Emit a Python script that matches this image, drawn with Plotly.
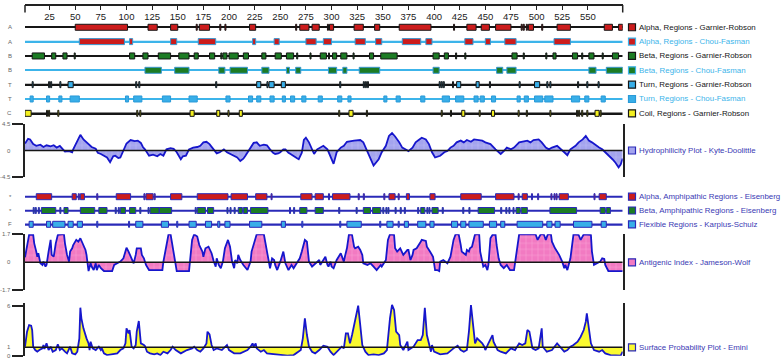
import plotly.graph_objects as go

W, H = 783, 361
FONT = "Liberation Sans, Arial, sans-serif"

seq_len = 584
ruler_ticks = list(range(25, 551, 25))

# ---------------- region tracks (start, end residue) ----------------
alpha_gr_start = [50, 121, 143, 168, 171, 191, 196, 220, 265, 269, 281, 296, 298, 322, 342, 366, 419, 432, 446, 460, 485, 487, 490, 492, 505, 520, 566, 580]
alpha_gr_end = [101, 130, 150, 169, 181, 192, 197, 226, 266, 278, 288, 297, 302, 331, 347, 397, 420, 441, 454, 475, 486, 488, 491, 497, 506, 533, 574, 584]

alpha_cf_start = [54, 103, 143, 170, 223, 244, 275, 292, 323, 343, 369, 392, 430, 450, 469, 517]
alpha_cf_end = [98, 106, 149, 187, 226, 249, 285, 300, 333, 349, 387, 398, 438, 455, 480, 533]

beta_gr_start = [8, 27, 38, 49, 103, 116, 131, 151, 166, 181, 192, 194, 200, 214, 232, 245, 256, 266, 279, 289, 297, 301, 309, 321, 337, 348, 399, 410, 421, 430, 476, 487, 509, 516, 535, 544, 551, 564, 574]
beta_gr_end = [20, 31, 42, 50, 108, 121, 143, 161, 170, 186, 193, 198, 209, 219, 236, 251, 263, 267, 280, 295, 298, 305, 315, 322, 341, 364, 405, 414, 422, 431, 481, 488, 510, 519, 540, 545, 556, 565, 580]

beta_cf_start = [118, 147, 190, 201, 232, 256, 265, 297, 311, 327, 399, 461, 471, 551, 568]
beta_cf_end = [134, 161, 196, 218, 239, 259, 270, 305, 315, 347, 405, 467, 480, 558, 584]

turn_gr_start = [8, 24, 26, 35, 43, 109, 112, 187, 227, 237, 239, 251, 308, 331, 333, 335, 405, 407, 409, 418, 422, 441, 454, 483, 498, 510, 513, 540, 549, 560]
turn_gr_end = [9, 25, 27, 36, 48, 110, 113, 188, 231, 238, 244, 255, 309, 332, 334, 336, 406, 408, 410, 419, 426, 444, 455, 484, 503, 511, 514, 541, 550, 561]

turn_cf_start = [6, 22, 34, 45, 99, 107, 135, 161, 197, 219, 227, 240, 252, 260, 271, 287, 306, 316, 351, 363, 387, 408, 421, 439, 445, 456, 481, 488, 498, 508, 534, 547, 563]
turn_cf_end = [9, 25, 37, 54, 102, 115, 143, 169, 201, 223, 231, 244, 255, 264, 275, 291, 310, 319, 354, 367, 391, 415, 429, 443, 449, 460, 484, 492, 506, 516, 542, 551, 567]

coil_gr_start = [1, 22, 24, 33, 110, 113, 162, 188, 199, 210, 307, 317, 334, 407, 416, 427, 444, 456, 482, 490, 513, 539, 541, 544, 549, 557, 562]
coil_gr_end = [7, 23, 25, 34, 111, 114, 166, 191, 200, 213, 308, 321, 335, 408, 417, 430, 445, 459, 483, 491, 514, 540, 542, 545, 550, 561, 563]

alpha_amph_start = [12, 47, 53, 55, 71, 90, 117, 119, 127, 143, 169, 202, 226, 241, 270, 284, 297, 301, 326, 331, 351, 356, 365, 373, 396, 426, 460, 482, 486, 495, 501, 514, 517, 519, 522, 556, 561]
alpha_amph_end = [27, 51, 54, 59, 72, 104, 118, 126, 128, 154, 199, 218, 237, 242, 281, 292, 298, 318, 327, 332, 352, 362, 366, 376, 401, 446, 478, 483, 491, 496, 502, 515, 518, 520, 531, 557, 568]

beta_amph_start = [9, 11, 14, 17, 35, 39, 55, 73, 89, 92, 94, 103, 113, 121, 123, 132, 167, 169, 179, 198, 201, 205, 209, 214, 221, 259, 263, 269, 284, 307, 324, 331, 340, 350, 353, 355, 362, 367, 371, 384, 387, 393, 395, 398, 408, 428, 434, 443, 465, 470, 473, 477, 480, 485, 513, 562, 568]
beta_amph_end = [10, 12, 15, 31, 36, 43, 69, 81, 90, 93, 99, 109, 114, 122, 132, 144, 168, 177, 185, 199, 202, 206, 213, 218, 238, 260, 264, 276, 292, 308, 325, 338, 348, 351, 354, 356, 363, 368, 372, 385, 391, 394, 396, 404, 409, 429, 435, 459, 466, 471, 474, 478, 484, 491, 539, 567, 572]

flex_start = [5, 22, 28, 43, 52, 71, 102, 109, 134, 149, 161, 177, 189, 196, 220, 251, 271, 308, 315, 347, 354, 365, 371, 384, 396, 417, 426, 434, 454, 465, 481, 510, 518, 536, 563]
flex_end = [9, 26, 40, 48, 57, 72, 103, 116, 141, 150, 168, 183, 191, 201, 232, 255, 272, 309, 329, 348, 360, 366, 375, 392, 400, 423, 431, 448, 461, 469, 506, 515, 523, 554, 568]

# ---------------- profile plots (residue, value) ----------------
hydro_points = [(1, 1.2), (4, 2.0), (6, 1.9), (9, 1.1), (12, 0.8), (16, 1.0), (19, 0.6), (22, 0.9), (26, 0.7), (29, 0.9), (32, 0.5), (35, 0.8), (38, 0.2), (40, -0.2), (44, -0.1), (47, -0.3), (48, 0.2), (52, 1.6), (55, 2.7), (58, 1.9), (61, 1.4), (63, 1.1), (66, 0.6), (70, 0.3), (72, -0.4), (75, -0.6), (78, -0.9), (81, -1.2), (84, -2.0), (87, -1.0), (89, -0.9), (92, -1.3), (94, -1.2), (97, -0.1), (100, 1.2), (104, 1.8), (108, 1.6), (111, 1.7), (114, 1.3), (116, 0.6), (118, 0.2), (122, -0.9), (126, -0.7), (130, -1.0), (133, -0.6), (136, -0.9), (139, 0.2), (143, 0.4), (146, 0.3), (149, -0.3), (153, -1.5), (155, -1.0), (158, -0.9), (161, 0.2), (165, 0.5), (169, 0.6), (172, 0.8), (175, 1.4), (178, 1.5), (181, 1.1), (185, 0.2), (188, -0.5), (191, -0.3), (195, 0.2), (198, -0.3), (201, -0.6), (205, -1.0), (208, -1.2), (211, -1.8), (214, -1.4), (216, -0.9), (219, -0.1), (222, 0.9), (224, 1.3), (227, 1.4), (230, 0.8), (234, 1.0), (237, 0.9), (240, 0.2), (243, -0.4), (245, -0.6), (248, -0.5), (250, -0.3), (253, 0.2), (255, 0.2), (258, -0.4), (260, -0.6), (263, -1.0), (266, -1.3), (268, -1.5), (271, -0.4), (273, 1.8), (275, 2.2), (278, 1.4), (281, 0.2), (283, -0.6), (286, 0.2), (289, 0.5), (292, 0.8), (296, 0.2), (299, -0.9), (302, -2.3), (305, -0.3), (309, 0.5), (312, 0.8), (315, 1.5), (322, 1.7), (328, 1.8), (331, 1.4), (335, -0.3), (338, -1.5), (341, -2.6), (346, -1.5), (349, -0.3), (353, 0.8), (356, 2.5), (359, 3.0), (362, 2.4), (366, 1.4), (369, 0.5), (372, 0.2), (375, -0.1), (379, 0.5), (382, 1.4), (385, 1.8), (388, 2.2), (392, 1.9), (395, 1.1), (398, -0.3), (401, -1.2), (406, -0.9), (410, -0.3), (413, -0.1), (416, 0.5), (419, 0.8), (422, 1.4), (426, 1.7), (429, 1.4), (432, 1.8), (436, 1.5), (439, 1.9), (444, 1.7), (447, 1.7), (450, 1.4), (455, 1.1), (460, 0.2), (465, -0.6), (468, -0.1), (471, 0.5), (475, 0.2), (478, 0.5), (483, 1.4), (486, 1.5), (491, 1.7), (494, 1.4), (497, 1.8), (502, 1.9), (505, 1.4), (509, 0.5), (512, 0.2), (515, 0.5), (520, 0.8), (527, -0.3), (530, -0.8), (533, 0.2), (538, 0.8), (541, 1.4), (545, 1.9), (548, 2.5), (551, 1.7), (554, 1.4), (558, 0.8), (561, 0.5), (564, 0.2), (567, -0.3), (571, -0.9), (574, -1.5), (577, -2.1), (580, -2.9), (582, -2.4), (584, -1.4)]

antigen_points = [(1, 0.3), (5, 1.66), (9, 1.66), (10, 1.15), (12, 0.65), (13, 0.34), (14, 0.55), (16, -0.06), (18, -0.16), (19, 0.04), (21, -0.26), (22, -0.16), (24, 0.65), (26, 1.36), (27, 0.45), (29, 0.34), (31, 1.15), (33, 1.66), (37, 1.7), (39, 1.7), (40, 1.15), (42, 0.45), (44, 0.04), (45, 0.65), (47, 0.85), (48, 1.05), (51, 1.36), (53, 1.25), (55, 1.46), (58, 1.05), (60, 0.75), (61, 0.45), (63, -0.53), (65, -0.06), (66, -0.26), (68, -0.47), (70, -0.06), (71, -0.47), (73, -0.16), (75, -0.36), (78, -0.53), (86, -0.53), (88, -0.16), (91, -0.06), (94, 0.04), (97, 0.24), (100, 0.89), (102, 0.65), (104, 0.34), (107, -0.06), (109, 0.45), (110, 0.85), (114, 0.85), (115, 0.45), (117, 0.24), (119, -0.16), (122, -0.47), (135, -0.47), (136, 0.04), (139, 1.15), (141, 1.7), (143, 1.7), (144, 1.36), (146, 0.65), (148, -0.06), (149, -0.53), (161, -0.53), (162, 0.24), (164, 1.36), (166, 1.7), (169, 1.56), (171, 1.05), (174, 0.65), (175, 0.34), (177, 0.85), (180, 0.95), (183, 0.55), (185, 0.08), (187, -0.26), (188, 0.24), (190, -0.16), (192, -0.36), (194, 0.04), (196, 0.85), (199, 1.36), (201, 0.95), (203, 0.04), (205, -0.36), (206, 0.14), (208, -0.06), (209, 0.45), (211, 0.14), (214, -0.16), (218, -0.47), (221, 0.04), (222, 0.65), (225, 1.36), (227, 1.7), (234, 1.7), (235, 1.36), (237, 0.65), (239, 0.14), (240, -0.36), (242, 0.24), (244, 0.14), (245, -0.16), (247, -0.47), (250, 0.04), (252, 0.45), (253, 0.65), (255, -0.06), (258, -0.47), (261, -0.16), (263, -0.36), (266, -0.06), (269, 0.24), (271, 0.65), (274, 1.36), (276, 1.25), (278, 0.04), (281, -0.26), (284, -0.06), (288, 0.14), (289, -0.16), (292, 0.14), (294, 0.34), (296, -0.16), (297, -0.26), (299, 0.04), (300, -0.26), (302, -0.36), (305, 0.14), (309, 0.55), (310, 0.34), (312, 0.04), (313, 0.34), (315, 0.85), (317, 1.7), (320, 1.66), (322, 0.95), (323, 0.85), (326, 0.95), (328, 0.75), (330, 0.45), (331, -0.06), (335, -0.16), (338, -0.06), (341, -0.26), (344, -0.47), (348, -0.16), (349, -0.26), (353, 0.14), (355, 1.36), (357, 1.7), (361, 1.66), (362, 0.85), (364, 0.65), (367, 0.85), (370, 0.45), (374, 0.75), (375, 0.75), (377, 0.14), (379, 0.45), (380, 0.75), (383, 0.85), (387, 1.25), (388, 1.36), (392, 1.3), (393, 0.95), (396, 0.65), (399, 0.34), (401, -0.47), (403, -0.47), (405, -0.53), (406, 0.04), (409, 0.14), (413, -0.06), (416, 0.34), (419, 1.36), (421, 1.7), (424, 1.7), (426, 1.05), (427, 0.65), (429, 0.55), (431, 0.45), (432, 0.75), (434, 0.65), (435, 0.85), (437, 0.95), (439, 1.46), (440, 1.7), (444, 1.7), (445, 0.65), (447, 0.04), (448, -0.26), (450, -0.16), (452, -0.47), (453, -0.16), (455, 1.46), (457, 1.66), (460, 1.66), (461, 1.05), (463, 0.24), (465, -0.16), (468, -0.36), (471, -0.16), (474, -0.47), (478, -0.47), (481, 0.85), (483, 1.7), (499, 1.7), (501, 1.36), (504, 1.7), (507, 1.7), (509, 1.36), (511, 1.7), (514, 1.7), (515, 1.25), (518, 0.85), (522, 0.45), (525, 0.04), (527, -0.36), (528, -0.16), (530, -0.47), (533, 0.24), (535, 1.36), (536, 1.7), (541, 1.66), (543, 1.36), (546, 1.7), (553, 1.66), (554, 0.65), (556, -0.16), (559, -0.06), (562, 0.04), (564, 0.24), (566, 0.2), (567, -0.16), (569, -0.47), (570, -0.53), (584, -0.53)]

surface_points = [(1, 1.08), (3, 2.88), (5, 3.68), (7, 3.6), (8, 3.08), (9, 1.08), (11, 0.68), (13, 0.48), (15, 0.68), (18, 0.88), (19, 1.28), (20, 0.8), (22, 1.48), (24, 0.68), (26, 1.08), (28, 0.48), (31, 0.68), (33, 1.36), (35, 0.68), (37, 0.88), (40, 0.48), (42, 0.28), (45, 1.08), (47, 0.28), (50, 0.16), (52, 0.48), (54, 2.08), (55, 5.76), (56, 4.48), (58, 3.28), (61, 2.08), (63, 1.48), (64, 0.68), (65, 1.68), (67, 0.88), (70, 0.68), (73, 1.08), (75, 0.68), (76, 0.88), (78, 0.28), (81, 0.08), (88, 0.16), (91, 0.28), (94, 0.68), (97, 0.88), (99, 1.48), (100, 3.28), (102, 2.68), (103, 3.08), (105, 1.08), (107, 0.88), (109, 1.28), (110, 2.88), (112, 4.16), (114, 1.48), (117, 1.28), (118, 1.16), (120, 0.48), (123, 0.28), (127, 0.16), (130, 0.28), (133, 0.08), (136, 0.48), (140, 0.28), (143, 0.68), (145, 1.08), (148, 0.68), (153, 0.28), (159, 0.68), (164, 0.88), (166, 1.08), (169, 0.68), (172, 0.48), (175, 0.88), (178, 1.48), (179, 2.88), (181, 2.56), (183, 1.28), (185, 0.68), (188, 0.88), (193, 0.68), (198, 1.28), (200, 0.68), (205, 0.28), (211, 0.28), (218, 0.68), (221, 1.08), (223, 1.48), (224, 1.08), (226, 1.48), (227, 0.88), (231, 0.48), (234, 0.68), (237, 0.28), (244, 0.16), (250, 0.08), (257, 0.0), (263, 0.08), (270, 0.68), (272, 2.08), (274, 4.48), (276, 2.48), (278, 1.08), (281, 0.48), (284, 0.28), (288, 0.68), (292, 1.2), (296, 1.08), (299, 0.48), (302, 0.08), (305, 0.48), (307, 0.68), (310, 1.08), (312, 0.88), (314, 2.68), (316, 2.68), (318, 1.48), (320, 2.48), (323, 4.08), (326, 6.0), (328, 3.68), (330, 1.28), (333, 0.48), (336, 0.08), (341, 0.16), (346, 0.08), (351, 0.28), (354, 0.68), (357, 4.48), (359, 6.1), (361, 5.48), (363, 2.88), (366, 2.48), (367, 1.28), (370, 0.68), (374, 1.68), (375, 0.68), (380, 1.08), (384, 1.88), (387, 1.88), (389, 2.48), (391, 5.76), (393, 2.48), (395, 1.28), (397, 0.48), (398, 1.28), (400, 0.48), (406, 0.16), (413, 0.28), (419, 0.88), (423, 1.2), (426, 0.68), (429, 0.48), (432, 0.68), (434, 2.88), (436, 6.08), (438, 3.28), (440, 1.48), (442, 2.08), (444, 1.88), (447, 1.48), (449, 1.08), (450, 0.68), (453, 1.48), (457, 2.48), (458, 1.68), (462, 0.68), (465, 0.48), (470, 0.28), (475, 0.88), (479, 0.68), (483, 1.48), (486, 1.28), (489, 1.48), (491, 3.08), (493, 2.88), (496, 0.88), (499, 0.68), (502, 0.88), (505, 3.28), (506, 1.08), (510, 0.48), (515, 0.68), (520, 1.48), (523, 1.08), (527, 0.48), (530, 0.68), (533, 1.08), (536, 1.28), (540, 1.68), (543, 2.28), (546, 3.08), (548, 4.08), (549, 5.08), (551, 3.28), (553, 1.48), (556, 0.68), (561, 0.48), (564, 0.68), (567, 0.28), (572, 0.08), (577, 0.08), (582, 0.0), (584, 0.48)]

hydro_ticks = ["4.5", "0", "-4.5"]
hydro_tick_vals = [4.5, 0, -4.5]
antigen_ticks = ["1.7", "0", "-1.7"]
antigen_tick_vals = [1.7, 0, -1.7]
surface_ticks = ["6", "1", "0"]
surface_tick_vals = [6, 1, 0]


# ---------------- layout helpers ----------------
def px_x(p):
    return p / W


def px_y(p):
    return 1 - p / H


BLACK = "#161616"
CYAN = "#3cb4ea"
BLUE = "#2a2ab8"
RED = "#cc1c1c"
GREEN = "#1c7c24"
TURQ = "#38aee8"
YELLOW = "#f4f020"
CURVE = "#1616cc"
TXT_BLUE = "#3a3ab4"
LEG_SIZE = 7.9

fig = go.Figure()

track_rows = [
    # axis, row, starts, ends, fill, outline, line, letter, legend text, legend color
    ("y", 0, alpha_gr_start, alpha_gr_end, RED, BLACK, BLACK, "A", "Alpha, Regions - Garnier-Robson", BLACK),
    ("y", -1, alpha_cf_start, alpha_cf_end, RED, "#3a98d0", CYAN, "A", "Alpha, Regions - Chou-Fasman", CYAN),
    ("y", -2, beta_gr_start, beta_gr_end, GREEN, BLACK, BLACK, "B", "Beta, Regions - Garnier-Robson", BLACK),
    ("y", -3, beta_cf_start, beta_cf_end, GREEN, "#3a98d0", CYAN, "B", "Beta, Regions - Chou-Fasman", CYAN),
    ("y", -4, turn_gr_start, turn_gr_end, TURQ, BLACK, BLACK, "T", "Turn, Regions - Garnier-Robson", BLACK),
    ("y", -5, turn_cf_start, turn_cf_end, TURQ, "#2a9ad8", CYAN, "T", "Turn, Regions - Chou-Fasman", CYAN),
    ("y", -6, coil_gr_start, coil_gr_end, YELLOW, BLACK, BLACK, "C", "Coil, Regions - Garnier-Robson", BLACK),
    ("y3", 0, alpha_amph_start, alpha_amph_end, RED, BLUE, BLUE, "*", "Alpha, Amphipathic Regions - Eisenberg", TXT_BLUE),
    ("y3", -1, beta_amph_start, beta_amph_end, GREEN, BLUE, BLUE, "*", "Beta, Amphipathic Regions - Eisenberg", TXT_BLUE),
    ("y3", -2, flex_start, flex_end, TURQ, BLUE, BLUE, "F", "Flexible Regions - Karplus-Schulz", TXT_BLUE),
]

annotations = []
shapes = []

for ax, row, starts, ends, fill, outline, linec, letter, ltext, lcol in track_rows:
    unit_px = 14.33 if ax == "y" else 13.8
    # backbone line (drawn as a thin bar so boxes sit on top of it)
    fig.add_trace(go.Bar(
        x=[seq_len - 1], base=[1], y=[row], orientation="h",
        width=1.6 / unit_px, marker=dict(color=linec, line=dict(width=0)),
        xaxis="x", yaxis=ax, showlegend=False, hoverinfo="skip"))
    fig.add_trace(go.Bar(
        x=[e - s for s, e in zip(starts, ends)], base=starts, y=[row] * len(starts),
        orientation="h", width=6.0 / unit_px,
        marker=dict(color=fill, line=dict(color=outline, width=1)),
        xaxis="x", yaxis=ax, showlegend=False, hoverinfo="skip"))
    annotations.append(dict(
        x=px_x(13.5), xref="paper", y=row, yref=ax, text=letter, showarrow=False,
        xanchor="right", yanchor="middle", font=dict(size=6, color="#666", family=FONT)))
    shapes.append(dict(
        type="rect", xref="paper", xsizemode="pixel", xanchor=px_x(632), x0=-3.5, x1=3.5,
        yref=ax, ysizemode="pixel", yanchor=row, y0=-3.5, y1=3.5,
        fillcolor=fill, line=dict(color=outline if outline != "#3a98d0" else CYAN, width=1.2)))
    annotations.append(dict(
        x=px_x(637), xref="paper", y=row, yref=ax, text=ltext, showarrow=False,
        xanchor="left", yanchor="middle", font=dict(size=LEG_SIZE, color=lcol, family=FONT)))

# ---------------- hydrophilicity ----------------
hx = [p[0] for p in hydro_points]
hy = [p[1] for p in hydro_points]
fig.add_trace(go.Scatter(
    x=hx, y=hy, mode="lines", line=dict(color=CURVE, width=1.8),
    fill="tozeroy", fillcolor="#a4a4ee",
    fillpattern=dict(shape="+", fgcolor="#d6d6fa", bgcolor="#a4a4ee", size=6, solidity=0.15),
    xaxis="x", yaxis="y2", showlegend=False, hoverinfo="skip"))
fig.add_trace(go.Scatter(
    x=[1, seq_len], y=[0, 0], mode="lines", line=dict(color=BLACK, width=1.5),
    xaxis="x", yaxis="y2", showlegend=False, hoverinfo="skip"))

# ---------------- antigenic index ----------------
ax_ = [p[0] for p in antigen_points]
ay_ = [p[1] for p in antigen_points]
fig.add_trace(go.Scatter(
    x=ax_, y=ay_, mode="lines", line=dict(color=CURVE, width=1.8),
    fill="tozeroy", fillcolor="#f27ac2",
    fillpattern=dict(shape="+", fgcolor="#ffd6ee", bgcolor="#f27ac2", size=6, solidity=0.15),
    xaxis="x", yaxis="y4", showlegend=False, hoverinfo="skip"))
fig.add_trace(go.Scatter(
    x=[1, seq_len], y=[0, 0], mode="lines", line=dict(color=BLACK, width=1.5),
    xaxis="x", yaxis="y4", showlegend=False, hoverinfo="skip"))

# ---------------- surface probability ----------------
sx = [p[0] for p in surface_points]
sy = [p[1] for p in surface_points]
fig.add_trace(go.Scatter(
    x=[1, seq_len], y=[1, 1], mode="lines", line=dict(width=0, color=BLACK),
    xaxis="x", yaxis="y5", showlegend=False, hoverinfo="skip"))
fig.add_trace(go.Scatter(
    x=sx, y=sy, mode="lines", line=dict(color=CURVE, width=1.8),
    fill="tonexty", fillcolor="#fafa30",
    xaxis="x", yaxis="y5", showlegend=False, hoverinfo="skip"))
fig.add_trace(go.Scatter(
    x=[1, seq_len], y=[1, 1], mode="lines", line=dict(color=BLACK, width=1.5),
    xaxis="x", yaxis="y5", showlegend=False, hoverinfo="skip"))

# plot legends and y labels
plot_legends = [
    ("y2", 0, "#a4a4ee", "Hydrophilicity Plot - Kyte-Doolittle", hydro_ticks, hydro_tick_vals),
    ("y4", 0, "#f27ac2", "Antigenic Index - Jameson-Wolf", antigen_ticks, antigen_tick_vals),
    ("y5", 1, "#fafa30", "Surface Probability Plot - Emini", surface_ticks, surface_tick_vals),
]
for ax, yv, fill, ltext, tt, tv in plot_legends:
    shapes.append(dict(
        type="rect", xref="paper", xsizemode="pixel", xanchor=px_x(632), x0=-3.5, x1=3.5,
        yref=ax, ysizemode="pixel", yanchor=yv, y0=-3.5, y1=3.5,
        fillcolor=fill, line=dict(color=BLUE, width=1.2)))
    annotations.append(dict(
        x=px_x(637), xref="paper", y=yv, yref=ax, text=ltext, showarrow=False,
        xanchor="left", yanchor="middle", font=dict(size=LEG_SIZE, color=TXT_BLUE, family=FONT)))
    for t, v in zip(tt, tv):
        annotations.append(dict(
            x=px_x(12.5), xref="paper", y=v, yref=ax, text=t, showarrow=False,
            xanchor="right", yanchor="middle", font=dict(size=6, color="#666", family=FONT)))

# ruler end ticks
for xd in (0, 1):
    shapes.append(dict(type="line", xref="x domain", x0=xd, x1=xd,
                       yref="paper", y0=px_y(5), y1=px_y(12.5),
                       line=dict(color="#222", width=1.5)))

bracket = dict(showline=True, mirror=True, linecolor="#222", linewidth=1.5,
               ticks="outside", ticklen=11, tickwidth=1.5, tickcolor="#222",
               showticklabels=False, showgrid=False, zeroline=False, anchor="x")

fig.update_layout(
    width=W, height=H, margin=dict(l=0, r=0, t=0, b=0),
    paper_bgcolor="white", plot_bgcolor="rgba(0,0,0,0)",
    barmode="overlay", showlegend=False,
    font=dict(family=FONT),
    xaxis=dict(domain=[px_x(25), px_x(622.7)], range=[1, seq_len],
               anchor="free", position=px_y(5), side="top",
               showline=True, linecolor="#222", linewidth=1.5,
               ticks="inside", ticklen=4, tickwidth=1, tickcolor="#222",
               tickvals=ruler_ticks, ticklabelposition="inside",
               ticklabelstandoff=3,
               tickfont=dict(size=9.5, color="#222", family=FONT),
               showgrid=False, zeroline=False),
    yaxis=dict(domain=[px_y(120.5), px_y(20.1)], range=[-6.5, 0.5], visible=False, anchor="x"),
    yaxis2=dict(domain=[px_y(176.7), px_y(124.3)], range=[-4.5, 4.5], tickvals=[-4.5, 4.5], **bracket),
    yaxis3=dict(domain=[px_y(231.2), px_y(189.8)], range=[-2.5, 0.5], visible=False, anchor="x"),
    yaxis4=dict(domain=[px_y(290.3), px_y(234.3)], range=[-1.7, 1.7], tickvals=[-1.7, 1.7], **bracket),
    yaxis5=dict(domain=[px_y(355.7), px_y(303.2)], range=[0, 6.3], tickvals=[0, 6], **bracket),
    annotations=annotations,
    shapes=shapes,
)

fig.write_html(
    "out.html",
    config={"displayModeBar": False},
    post_script="document.body.style.margin='0';document.body.style.overflow='hidden';",
)
